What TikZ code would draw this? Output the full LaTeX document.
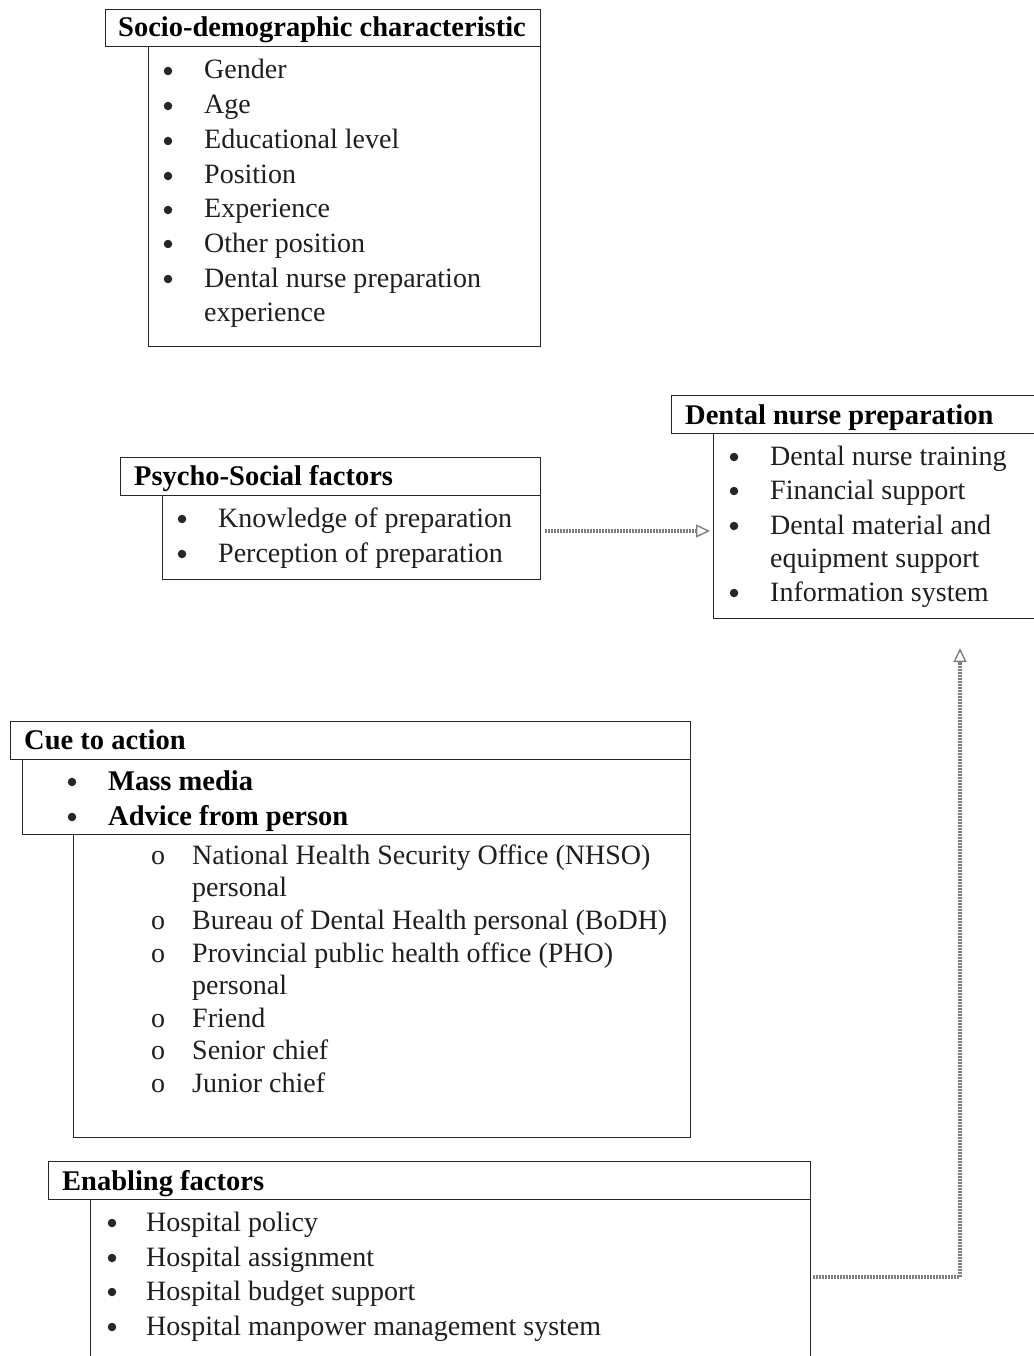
\documentclass[tikz,border=0pt]{standalone}
\usepackage{fontspec}
\setmainfont{Liberation Serif}
\usetikzlibrary{arrows.meta}
\begin{document}
\begin{tikzpicture}[x=1pt,y=-1pt,
 box/.style={draw=black!85, line width=1.3pt, fill=white, anchor=north west, inner sep=0pt},
 txt/.style={anchor=base west, inner sep=0pt, font=\fontsize{28}{32}\selectfont, text=black!88},
 btxt/.style={anchor=base west, inner sep=0pt, font=\fontsize{28.5}{32}\selectfont\bfseries, text=black},
 dot/.style={circle, fill=black!85, inner sep=0pt, minimum size=8.5pt},
 conn/.style={draw=black!50, line width=3.4pt, dash pattern=on 2pt off 1pt, -{Triangle[open,length=14pt,width=13pt,line width=1.4pt]}}
]
\useasboundingbox (0,0) rectangle (1033,1356);

% Box 1: Socio-demographic
\node[box, minimum width=392pt, minimum height=300pt] (sdbody) at (148,46) {};
\node[box, minimum width=435pt, minimum height=37pt] (sdtitle) at (105,9) {};
\node[btxt] (sdt) at (118,37) {Socio-demographic characteristic};
\foreach \y/\t [count=\i] in {79/Gender,114/Age,149/Educational level,184/Position,218/Experience,252/Other position,287/Dental nurse preparation}{
  \node[dot] (sdb\i) at (168,\y-8) {};
  \node[txt] (sdi\i) at (204,\y) {\t};
}
\node[txt] (sdi8) at (204,321) {experience};

% Box 2: Psycho-Social
\node[box, minimum width=378pt, minimum height=84pt] (psbody) at (162,495) {};
\node[box, minimum width=420pt, minimum height=38pt] (pstitle) at (120,457) {};
\node[btxt] (pst) at (134,485) {Psycho-Social factors};
\foreach \y/\t [count=\i] in {527/Knowledge of preparation,562/Perception of preparation}{
  \node[dot] (psb\i) at (182,\y-8) {};
  \node[txt] (psi\i) at (218,\y) {\t};
}

% Box 3: Dental nurse preparation
\node[box, minimum width=340pt, minimum height=185pt] (dnbody) at (713,433) {};
\node[box, minimum width=380pt, minimum height=38pt] (dntitle) at (671,395) {};
\node[btxt] (dnt) at (685,424) {Dental nurse preparation};
\foreach \y/\t [count=\i] in {465/Dental nurse training,499/Financial support,534/Dental material and,601/Information system}{
  \node[dot] (dnb\i) at (734,\y-8) {};
  \node[txt] (dni\i) at (770,\y) {\t};
}
\node[txt] (dni5) at (770,567) {equipment support};

% Box 4: Cue to action
\node[box, minimum width=617pt, minimum height=303pt] (cubody) at (73,834) {};
\node[box, minimum width=668pt, minimum height=75pt] (cusub) at (22,759) {};
\node[box, minimum width=680pt, minimum height=38pt] (cutitle) at (10,721) {};
\node[btxt] (cut) at (24,749) {Cue to action};
\node[dot] (cub1) at (72,782) {};
\node[btxt] (cui1) at (108,790) {Mass media};
\node[dot] (cub2) at (72,817) {};
\node[btxt] (cui2) at (108,825) {Advice from person};
\foreach \y/\t [count=\i] in {864/National Health Security Office (NHSO),929/Bureau of Dental Health personal (BoDH),962/Provincial public health office (PHO),1027/Friend,1059/Senior chief,1092/Junior chief}{
  \node[txt] (cuo\i) at (151,\y) {o};
  \node[txt] (cuj\i) at (192,\y) {\t};
}
\node[txt] (cuk1) at (192,896) {personal};
\node[txt] (cuk2) at (192,994) {personal};

% Box 5: Enabling factors
\node[box, minimum width=720pt, minimum height=180pt] (enbody) at (90,1199) {};
\node[box, minimum width=762pt, minimum height=38pt] (entitle) at (48,1161) {};
\node[btxt] (ent) at (62,1190) {Enabling factors};
\foreach \y/\t [count=\i] in {1231/Hospital policy,1266/Hospital assignment,1300/Hospital budget support,1335/Hospital manpower management system}{
  \node[dot] (enb\i) at (112,\y-8) {};
  \node[txt] (eni\i) at (146,\y) {\t};
}

% Connectors
\coordinate (a1s) at (545,531);
\coordinate (a1e) at (710,531);
\draw[conn] (a1s) -- (a1e);
\coordinate (turn) at (960,1277);
\coordinate (tip) at (960,648);
\draw[conn] ([xshift=2pt]enbody.east |- turn) -- (turn) -- (tip);
\end{tikzpicture}
\end{document}
